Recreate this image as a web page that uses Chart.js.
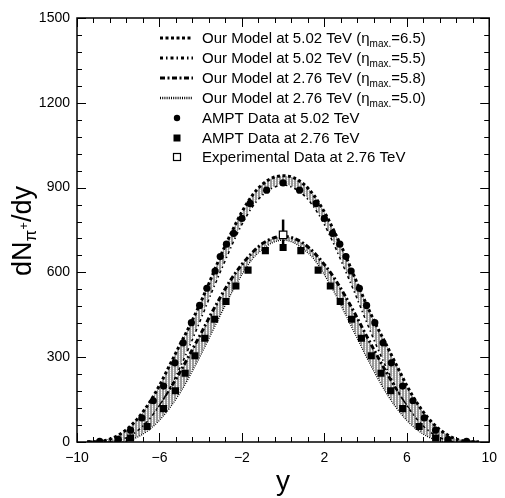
<!DOCTYPE html>
<html>
<head>
<meta charset="utf-8">
<script src="https://cdn.jsdelivr.net/npm/chart.js@4/dist/chart.umd.min.js"></script>
<style>
  html, body { margin: 0; padding: 0; background: #fff; }
</style>
</head>
<body>
<canvas id="chart" width="505" height="498"></canvas>
<script>
// rapidity grid of the model curves
const rapidity = [-9.5,-9,-8.5,-8,-7.5,-7,-6.5,-6,-5.5,-5,-4.5,-4,-3.5,-3,-2.5,-2,-1.5,-1,-0.5,0,
                  0.5,1,1.5,2,2.5,3,3.5,4,4.5,5,5.5,6,6.5,7,7.5,8,8.5,9,9.5];

// model curves (dN/dy)
const model502_65 = [0,1,8,24,50,88,138,200,272,345,416,494,578,664,742,814,872,912,935,942,
                     935,912,872,814,742,664,578,494,416,345,272,200,138,88,50,24,8,1,0];
const model502_55 = [0,0,2,8,22,47,84,134,196,270,352,440,530,616,700,775,835,877,902,912,
                     902,877,835,775,700,616,530,440,352,270,196,134,84,47,22,8,2,0,0];
const model276_58 = [0,0,4,14,31,57,92,136,188,248,314,382,452,518,578,628,670,702,721,728,
                     721,702,670,628,578,518,452,382,314,248,188,136,92,57,31,14,4,0,0];
const model276_50 = [0,0,0,1,8,22,46,80,124,178,242,312,386,460,532,596,650,684,708,716,
                     708,684,650,596,532,460,386,312,242,178,124,80,46,22,8,1,0,0,0];

// AMPT 5.02 TeV
const amptY502 = [-8.9,-8.0,-7.4,-6.85,-6.3,-5.8,-5.25,-4.85,-4.45,-4.05,-3.7,-3.3,-3.05,-2.75,-2.4,-2.0,-1.6,-0.8,0,
                  0.8,1.6,2.0,2.4,2.75,3.05,3.3,3.7,4.05,4.45,4.85,5.25,5.8,6.3,6.85,7.4,8.0,8.9];
const amptN502 = [2,9,42,85,146,198,280,351,422,483,544,605,656,700,738,791,844,891,917,
                  891,844,791,738,700,656,605,544,483,422,351,280,198,146,85,42,9,2];

// AMPT 2.76 TeV
const amptY276 = [-7.4,-6.6,-5.8,-5.22,-4.75,-4.28,-3.8,-3.32,-2.77,-2.29,-1.7,-0.86,0,
                  0.86,1.7,2.29,2.77,3.32,3.8,4.28,4.75,5.22,5.8,6.6,7.4];
const amptN276 = [14,55,118,181,243,305,367,434,497,552,608,677,688,
                  677,608,552,497,434,367,305,243,181,118,55,14];

// experimental point at 2.76 TeV
const expY = [0];
const expN = [733];
const expErr = [54];

const xTicks = [-10, -6, -2, 2, 6, 10];
const yTicks = [0, 300, 600, 900, 1200, 1500];

const FONT = '"Liberation Sans", Arial, Helvetica, sans-serif';

function pts(xs, ys) { return xs.map((x, i) => ({ x: x, y: ys[i] })); }

function hatch() {
  const p = document.createElement('canvas');
  p.width = 3; p.height = 2;
  const g = p.getContext('2d');
  g.fillStyle = '#9a9a9a';
  g.fillRect(0, 0, 3, 2);
  g.fillStyle = '#ffffff';
  g.fillRect(2, 0, 1, 1);
  g.fillStyle = '#e0e0e0';
  g.fillRect(2, 1, 1, 1);
  return g.createPattern(p, 'repeat');
}

const ctx = document.getElementById('chart');
const band = hatch();

const lineStyles = [
  { dash: [3, 2.5], width: 3 },
  { dash: [3, 3, 1.5, 3], width: 3 },
  { dash: [5, 2.5, 2, 2.5], width: 3 },
  { dash: [1, 1.2], width: 2.5 }
];

function curve(data, st, fill) {
  return {
    data: pts(rapidity, data),
    showLine: true,
    borderColor: '#000',
    borderWidth: st.width,
    borderDash: st.dash,
    pointRadius: 0,
    cubicInterpolationMode: 'monotone',
    fill: fill ? '+1' : false,
    backgroundColor: band
  };
}

const legendRows = [
  ['Our Model at 5.02 TeV (\u03b7', 'max.', '=6.5)'],
  ['Our Model at 5.02 TeV (\u03b7', 'max.', '=5.5)'],
  ['Our Model at 2.76 TeV (\u03b7', 'max.', '=5.8)'],
  ['Our Model at 2.76 TeV (\u03b7', 'max.', '=5.0)'],
  ['AMPT Data at 5.02 TeV'],
  ['AMPT Data at 2.76 TeV'],
  ['Experimental Data at 2.76 TeV']
];
const legendY = [38, 58, 78, 98, 118, 138, 157];

const decor = {
  id: 'decor',
  beforeDatasetsDraw(c) {
    const g = c.ctx, xs = c.scales.x, ys = c.scales.y;
    g.save();
    g.strokeStyle = '#000';
    g.lineWidth = 2.5;
    expY.forEach((x, i) => {
      const px = xs.getPixelForValue(x);
      g.beginPath();
      g.moveTo(px, ys.getPixelForValue(expN[i] - expErr[i]));
      g.lineTo(px, ys.getPixelForValue(expN[i] + expErr[i]));
      g.stroke();
    });
    g.restore();
  },
  afterDraw(c) {
    const g = c.ctx, a = c.chartArea, xs = c.scales.x, ys = c.scales.y;
    g.save();
    g.strokeStyle = '#000';
    g.setLineDash([]);
    // ticks on all four sides, pointing inwards
    g.lineWidth = 1;
    g.beginPath();
    xs.ticks.forEach((t, i) => {
      const px = Math.round(xs.getPixelForValue(t.value)) + 0.5;
      const L = i % 5 === 0 ? 9 : 5;
      g.moveTo(px, a.bottom); g.lineTo(px, a.bottom - L);
      g.moveTo(px, a.top); g.lineTo(px, a.top + L);
    });
    ys.ticks.forEach((t, i) => {
      const py = Math.round(ys.getPixelForValue(t.value)) + 0.5;
      const L = i % 5 === 0 ? 9 : 5;
      g.moveTo(a.left, py); g.lineTo(a.left + L, py);
      g.moveTo(a.right, py); g.lineTo(a.right - L, py);
    });
    g.stroke();
    g.lineWidth = 1.5;
    g.strokeRect(a.left, a.top, a.right - a.left, a.bottom - a.top);

    // axis titles
    g.fillStyle = '#000';
    g.font = '28px ' + FONT;
    g.textAlign = 'center';
    g.textBaseline = 'alphabetic';
    g.fillText('y', (a.left + a.right) / 2, 490);

    g.textAlign = 'left';
    g.save();
    g.translate(31, 231);
    g.rotate(-Math.PI / 2);
    const parts = [
      { t: 'dN', s: 27, dy: 0 },
      { t: '\u03c0', s: 17, dy: 5 },
      { t: '+', s: 13, dy: -3 },
      { t: '/dy', s: 27, dy: 0 }
    ];
    let w = 0;
    parts.forEach(p => { g.font = p.s + 'px ' + FONT; p.w = g.measureText(p.t).width; w += p.w; });
    let cx = -w / 2;
    parts.forEach(p => { g.font = p.s + 'px ' + FONT; g.fillText(p.t, cx, p.dy); cx += p.w; });
    g.restore();

    // legend
    legendRows.forEach((row, i) => {
      const y = legendY[i];
      if (i < 4) {
        const st = lineStyles[i];
        g.setLineDash(st.dash);
        g.lineWidth = st.width;
        g.beginPath();
        g.moveTo(160, y); g.lineTo(193, y);
        g.stroke();
        g.setLineDash([]);
      } else if (i === 4) {
        g.beginPath(); g.arc(177, y, 3.2, 0, Math.PI * 2); g.fill();
      } else if (i === 5) {
        g.fillRect(173.5, y - 3.5, 7, 7);
      } else {
        g.fillStyle = '#fff';
        g.fillRect(173.5, y - 3.5, 7, 7);
        g.lineWidth = 1.2;
        g.strokeRect(173.5, y - 3.5, 7, 7);
        g.fillStyle = '#000';
      }
      let x = 202;
      row.forEach((t, k) => {
        const sub = k === 1;
        g.font = (sub ? 10 : 15) + 'px ' + FONT;
        g.fillText(t, x, y + 5 + (sub ? 4 : 0));
        x += g.measureText(t).width;
      });
    });
    g.restore();
  }
};

new Chart(ctx, {
  type: 'scatter',
  data: {
    datasets: [
      {
        data: pts(expY, expN),
        pointStyle: 'rect',
        pointRadius: 5.3,
        backgroundColor: '#fff',
        borderColor: '#000',
        borderWidth: 1.2
      },
      {
        data: pts(amptY276, amptN276),
        pointStyle: 'rect',
        pointRadius: 5,
        backgroundColor: '#000',
        borderColor: '#000',
        borderWidth: 0
      },
      {
        data: pts(amptY502, amptN502),
        pointStyle: 'circle',
        pointRadius: 3.6,
        backgroundColor: '#000',
        borderColor: '#000',
        borderWidth: 0
      },
      curve(model502_65, lineStyles[0], true),
      curve(model502_55, lineStyles[1], false),
      curve(model276_58, lineStyles[2], true),
      curve(model276_50, lineStyles[3], false)
    ]
  },
  options: {
    responsive: false,
    devicePixelRatio: 1,
    animation: false,
    layout: { padding: { top: 18, right: 12, left: 0, bottom: 0 } },
    plugins: { legend: { display: false }, tooltip: { enabled: false } },
    scales: {
      x: {
        type: 'linear',
        min: -10,
        max: 10,
        afterFit: s => { s.height = 56; },
        grid: { display: false, drawTicks: false },
        border: { display: false },
        ticks: {
          stepSize: 0.8,
          autoSkip: false,
          maxRotation: 0,
          padding: 8,
          color: '#000',
          font: { size: 14, family: FONT },
          callback: (v) => {
            const r = Math.round(v);
            if (Math.abs(v - r) > 1e-6 || !xTicks.includes(r)) return '';
            return r < 0 ? '\u2212' + Math.abs(r) : String(r);
          }
        }
      },
      y: {
        min: 0,
        max: 1500,
        afterFit: s => { s.width = 77; },
        grid: { display: false, drawTicks: false },
        border: { display: false },
        ticks: {
          stepSize: 60,
          autoSkip: false,
          padding: 7,
          color: '#000',
          font: { size: 14, family: FONT },
          callback: (v) => yTicks.includes(Math.round(v)) && Math.abs(v - Math.round(v)) < 1e-6 ? String(Math.round(v)) : ''
        }
      }
    }
  },
  plugins: [decor]
});
</script>
</body>
</html>
